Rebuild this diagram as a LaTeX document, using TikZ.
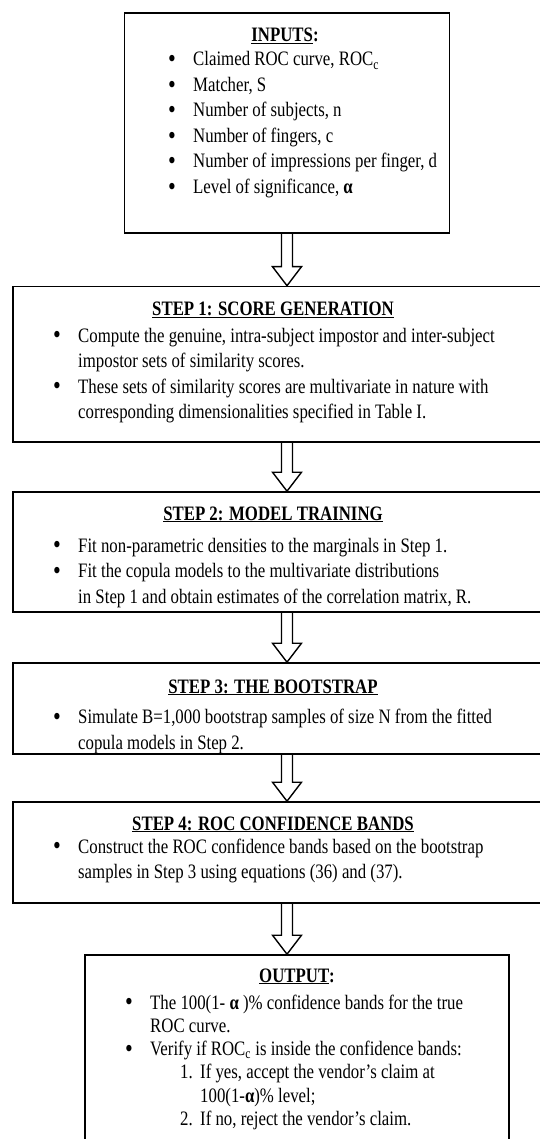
\documentclass[tikz,border=0pt]{standalone}
\usepackage{fontspec}
\setmainfont{Liberation Serif}[FakeStretch=0.82]
\usepackage{tikz}
\usetikzlibrary{calc}

\newcommand{\boxfont}{\fontsize{20.5}{25.5}\selectfont}
\newcommand{\outfont}{\fontsize{20.5}{23.3}\selectfont}
\newcommand{\bitem}{\makebox[25pt][l]{\raisebox{-1.6pt}{\fontsize{27}{27}\selectfont\textbullet}}}
\newcommand{\bcont}{\hspace*{25pt}}
\newcommand{\blockarrow}[2]{%
  \draw[flow] let \p1=(#1.south), \p2=(#1.south |- #2.north) in
    (\x1-5.5pt,\y1) -- (\x1-5.5pt,\y2+19pt) -- (\x1-14.5pt,\y2+19pt) -- (\x2,\y2)
    -- (\x1+14.5pt,\y2+19pt) -- (\x1+5.5pt,\y2+19pt) -- (\x1+5.5pt,\y1);}

\tikzset{
  box/.style={draw, line width=1.6pt, inner sep=0pt},
  head/.style={anchor=base, inner sep=0pt, font=\boxfont\bfseries},
  body/.style={anchor=base west, inner sep=0pt, font=\boxfont},
  flow/.style={draw, line width=1.4pt, line join=miter},
}

\begin{document}
\begin{tikzpicture}[x=1pt, y=-1pt]
\useasboundingbox (0,0) rectangle (540,1139);
\node[box, minimum width=325pt, minimum height=220pt] (inputs) at (287,123) {};
\node[box, minimum width=548pt, minimum height=155.5pt] (step1) at (287,364.25) {};
\node[box, minimum width=548pt, minimum height=120pt] (step2) at (287,552) {};
\node[box, minimum width=548pt, minimum height=91pt] (step3) at (287,708.5) {};
\node[box, minimum width=548pt, minimum height=101pt] (step4) at (287,852.5) {};
\node[box, minimum width=424pt, minimum height=205pt] (output) at (297,1057.5) {};

\blockarrow{inputs}{step1}
\blockarrow{step1}{step2}
\blockarrow{step2}{step3}
\blockarrow{step3}{step4}
\blockarrow{step4}{output}

% inputs
\node[head] (inputs-h) at (285,41.7) {\underline{INPUTS}:};
\node[body] (inputs-b) at (168,66) {\begin{tabular}[t]{@{}l@{}}
\bitem Claimed ROC curve, ROC\textsubscript{c}\\
\bitem Matcher, S\\
\bitem Number of subjects, n\\
\bitem Number of fingers, c\\
\bitem Number of impressions per finger, d\\
\bitem Level of significance, \textbf{α}
\end{tabular}};

% steps
\node[head] (step1-h) at (273,316) {\underline{STEP 1: SCORE GENERATION}};
\node[body] (step1-b) at (53,342) {\begin{tabular}[t]{@{}l@{}}
\bitem Compute the genuine, intra-subject impostor and inter-subject\\
\bcont impostor sets of similarity scores.\\
\bitem These sets of similarity scores are multivariate in nature with\\
\bcont corresponding dimensionalities specified in Table I.
\end{tabular}};

\node[head] (step2-h) at (273,520) {\underline{STEP 2: MODEL TRAINING}};
\node[body] (step2-b) at (53,552) {\begin{tabular}[t]{@{}l@{}}
\bitem Fit non-parametric densities to the marginals in Step 1.\\
\bitem Fit the copula models to the multivariate distributions\\
\bcont in Step 1 and obtain estimates of the correlation matrix, R.
\end{tabular}};

\node[head] (step3-h) at (273,693) {\underline{STEP 3: THE BOOTSTRAP}};
\node[body] (step3-b) at (53,723.5) {\begin{tabular}[t]{@{}l@{}}
\bitem Simulate B=1,000 bootstrap samples of size N from the fitted\\
\bcont copula models in Step 2.
\end{tabular}};

\node[head] (step4-h) at (273,830) {\underline{STEP 4: ROC CONFIDENCE BANDS}};
\node[body] (step4-b) at (53,853) {\begin{tabular}[t]{@{}l@{}}
\bitem Construct the ROC confidence bands based on the bootstrap\\
\bcont samples in Step 3 using equations (36) and (37).
\end{tabular}};

% output
\node[head] (output-h) at (297,982) {\underline{OUTPUT}:};
\node[body, font=\outfont] (output-b) at (125,1009) {\begin{tabular}[t]{@{}l@{}}
\bitem The 100(1- \textbf{α} )\% confidence bands for the true\\
\bcont ROC curve.\\
\bitem Verify if ROC\textsubscript{c} is inside the confidence bands:\\
\bcont\hspace*{30pt}\makebox[20pt][l]{1.}If yes, accept the vendor's claim at\\
\bcont\hspace*{50pt}100(1-\textbf{α})\% level;\\
\bcont\hspace*{30pt}\makebox[20pt][l]{2.}If no, reject the vendor's claim.
\end{tabular}};
\end{tikzpicture}
\end{document}
